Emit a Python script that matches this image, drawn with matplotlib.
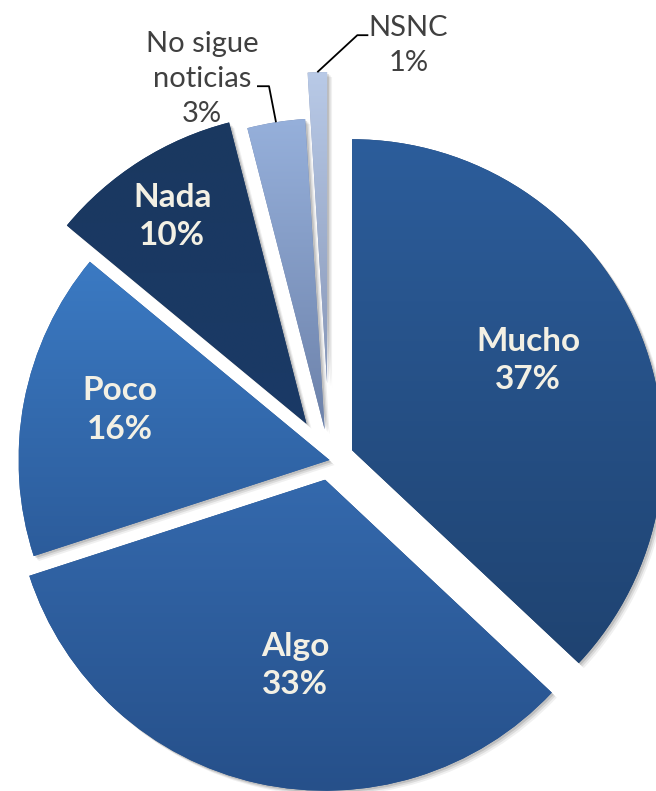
import numpy as np
import matplotlib.pyplot as plt
from matplotlib.colors import LinearSegmentedColormap
import matplotlib.patches as mpatches

# datos del grafico
categorias = ["Mucho", "Algo", "Poco", "Nada", "No sigue\nnoticias", "NSNC"]
porcentajes = [37, 33, 16, 10, 3, 1]
etiquetas_pct = ["37%", "33%", "16%", "10%", "3%", "1%"]

# estilo: separacion de cada porcion (px) y colores del degradado
separacion = [24.6, 20.2, 0.0, 43.0, 31.0, 77.0]
color_arriba = ["#2c5d9b", "#3469ad", "#3b7ac3", "#1a3860", "#96b0db", "#b9cae7"]
color_abajo = ["#1f4371", "#26508a", "#2c5c9b", "#1a3a66", "#6d82aa", "#8797b8"]

W, H = 656, 791
fig = plt.figure(figsize=(W / 100, H / 100), dpi=100)
ax = fig.add_axes([0, 0, 1, 1])

centro = (329.5, H - 460)
radio = 311

wedges, _ = ax.pie(porcentajes, startangle=90, counterclock=False,
                   explode=separacion, radius=radio, center=centro,
                   wedgeprops=dict(linewidth=0))

for i, w in enumerate(wedges):
    w.set_facecolor(color_abajo[i])
    w.set_zorder(3)
    # sombra suave abajo a la derecha
    for k, a in [(5, 0.06), (3.5, 0.09), (2, 0.12)]:
        sombra = mpatches.Wedge((w.center[0] + k, w.center[1] - k), w.r,
                                w.theta1, w.theta2, facecolor="black",
                                alpha=a, linewidth=0, zorder=1)
        ax.add_patch(sombra)
    # degradado vertical recortado a la porcion
    ext = w.get_path().get_extents()
    cmap = LinearSegmentedColormap.from_list("g%d" % i, [color_arriba[i], color_abajo[i]])
    grad = np.linspace(0, 1, 256).reshape(-1, 1)
    im = ax.imshow(grad, extent=[ext.x0, ext.x1, ext.y0, ext.y1], origin="upper",
                   cmap=cmap, aspect="auto", zorder=4, interpolation="bilinear")
    im.set_clip_path(w)

# etiquetas interiores
frac = [0.636, 0.604, 0.693, 0.793]
giro = [3.6, 3.4, -2.6, 0.6]
for i in range(4):
    w = wedges[i]
    ang = np.deg2rad((w.theta1 + w.theta2) / 2 + giro[i])
    x = w.center[0] + frac[i] * radio * np.cos(ang)
    y = w.center[1] + frac[i] * radio * np.sin(ang)
    ax.text(x, y, categorias[i] + "\n" + etiquetas_pct[i], ha="center", va="center",
            fontsize=24, fontweight="bold", family="Lato", color="#f3f0e4",
            linespacing=1.38, zorder=6)

# etiquetas exteriores con linea guia
codo = [None, None, None, None, (-7, 36, -12), (40, 37, 11)]
desplaz_txt = [None, None, None, None, (-55, 7), (40, -10)]
for i in [4, 5]:
    w = wedges[i]
    ang = np.deg2rad((w.theta1 + w.theta2) / 2)
    x0 = w.center[0] + radio * np.cos(ang)
    y0 = w.center[1] + radio * np.sin(ang)
    dx, dy, dh = codo[i]
    xs = [x0, x0 + dx, x0 + dx + dh]
    ys = [y0, y0 + dy, y0 + dy]
    ax.plot(xs, ys, color="black", lw=1.3, zorder=7, solid_capstyle="butt")
    tx, ty = desplaz_txt[i]
    ax.text(xs[-1] + tx, ys[-1] + ty, categorias[i] + "\n" + etiquetas_pct[i],
            ha="center", va="center", fontsize=21, family="Lato", color="#404040",
            linespacing=1.42, zorder=7)

ax.set_xlim(0, W)
ax.set_ylim(0, H)
ax.set_aspect("equal")
ax.axis("off")

fig.savefig("out.png", dpi=100, facecolor="white")
